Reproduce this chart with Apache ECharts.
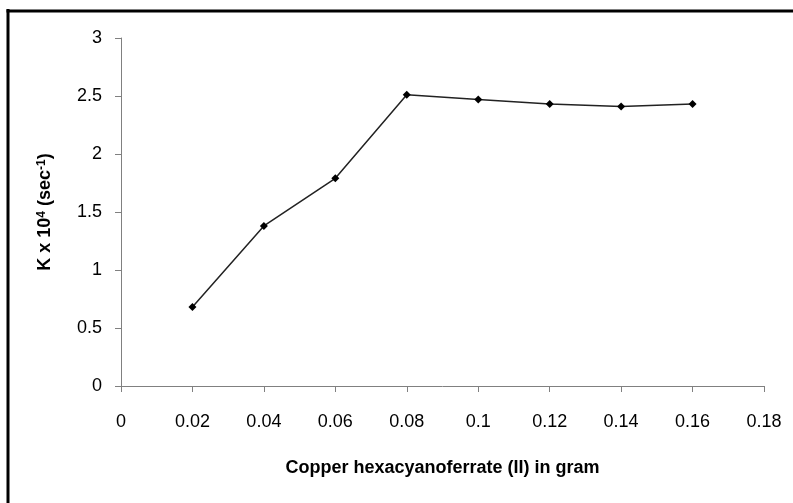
<!DOCTYPE html>
<html>
<head>
<meta charset="utf-8">
<script src="https://cdn.jsdelivr.net/npm/echarts@6/dist/echarts.min.js"></script>
<style>html,body{margin:0;padding:0;background:#fff;}#c{width:793px;height:503px;}</style>
</head>
<body>
<div id="c"></div>
<script>
const xValues = [0.02, 0.04, 0.06, 0.08, 0.10, 0.12, 0.14, 0.16];
const kValues = [0.68, 1.38, 1.79, 2.51, 2.47, 2.43, 2.41, 2.43];
const xTicks = [0, 0.02, 0.04, 0.06, 0.08, 0.1, 0.12, 0.14, 0.16, 0.18];
const yTicks = [0, 0.5, 1, 1.5, 2, 2.5, 3];

const chart = echarts.init(document.getElementById('c'), null, {renderer: 'canvas'});
const font = 'Liberation Sans';
chart.setOption({
  animation: false,
  backgroundColor: '#fff',
  grid: {left: 121, right: 29, top: 38, bottom: 117},
  graphic: [
    {type: 'line', shape: {x1: 8, y1: 9, x2: 8, y2: 503}, style: {stroke: '#000', lineWidth: 3}},
    {type: 'line', shape: {x1: 6.5, y1: 11, x2: 793, y2: 11}, style: {stroke: '#000', lineWidth: 3}}
  ],
  xAxis: {
    type: 'value', min: 0, max: 0.18, interval: 0.02,
    axisLine: {show: true, lineStyle: {color: '#808080', width: 1}},
    axisTick: {show: true, length: 6, lineStyle: {color: '#808080'}},
    splitLine: {show: false},
    axisLabel: {margin: 27, color: '#000', fontFamily: font, fontSize: 18,
      formatter: v => { const t = xTicks.find(x => Math.abs(x - v) < 1e-9); return t === undefined ? '' : String(t); }},
    name: 'Copper hexacyanoferrate (II) in gram',
    nameLocation: 'middle', nameGap: 73,
    nameTextStyle: {color: '#000', fontFamily: font, fontSize: 18, fontWeight: 'bold'}
  },
  yAxis: {
    type: 'value', min: 0, max: 3, interval: 0.5,
    axisLine: {show: true, lineStyle: {color: '#808080', width: 1}},
    axisTick: {show: true, inside: false, length: 6, lineStyle: {color: '#808080'}},
    splitLine: {show: false},
    axisLabel: {margin: 19, color: '#000', fontFamily: font, fontSize: 18,
      formatter: v => { const t = yTicks.find(y => Math.abs(y - v) < 1e-9); return t === undefined ? '' : String(t); }},
    name: '{b|K x 10}{s|4}{b| (sec}{s|-1}{b|)}',
    nameLocation: 'middle', nameGap: 66, nameRotate: 90,
    nameTextStyle: {
      color: '#000', fontFamily: font, fontSize: 18, fontWeight: 'bold',
      rich: {
        b: {fontFamily: font, fontSize: 18, fontWeight: 'bold', color: '#000'},
        s: {fontFamily: font, fontSize: 12, fontWeight: 'bold', color: '#000', verticalAlign: 'top', padding: [0,0,7,0]}
      }
    }
  },
  series: [{
    type: 'line',
    data: xValues.map((x, i) => [x, kValues[i]]),
    symbol: 'diamond', symbolSize: 8,
    lineStyle: {color: '#222', width: 1.5},
    itemStyle: {color: '#000'}
  }]
});
</script>
</body>
</html>
